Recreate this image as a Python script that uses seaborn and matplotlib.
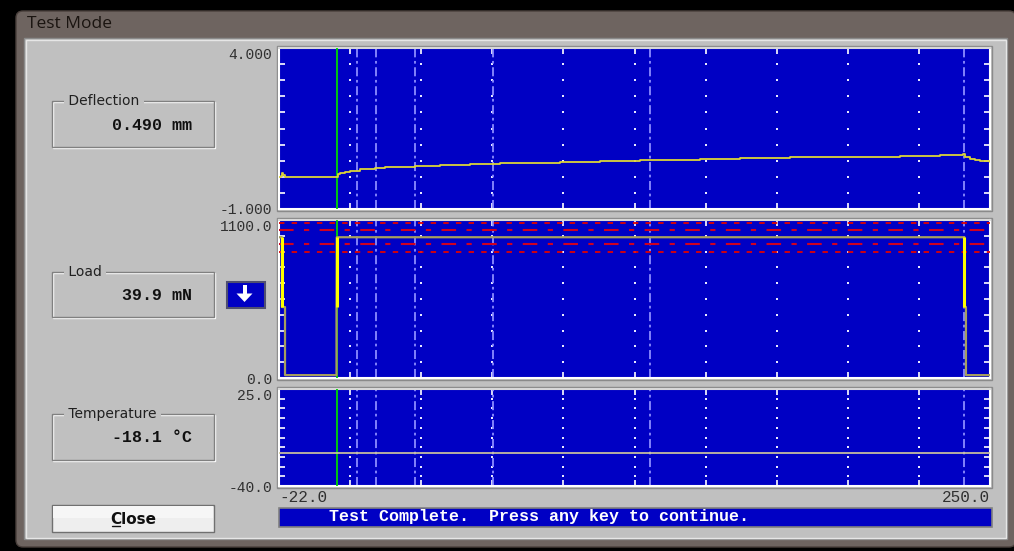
import matplotlib
matplotlib.use('Agg')
import matplotlib.pyplot as plt
import matplotlib.patches as mpatches
import seaborn as sns
import numpy as np

# ── Data ──────────────────────────────────────────────────────────────────────
t_range = [-22.0, 250.0]
event_times = [8, 15, 30, 60, 120, 240]          # BBR reading times (s)

defl_t = [-22.0, -21.3, -20.9, -20.4, -19.8, 0.0, 0.4, 1.3, 3.2, 5.2, 9.0, 14.7,
          18.6, 24.3, 30.0, 39.6, 51.1, 62.5, 74.0, 85.5, 100.8, 116.1, 139.1,
          154.4, 173.5, 192.6, 215.6, 230.9, 239.7, 240.4, 242.3, 244.2, 246.2, 250.0]
defl_v = [-0.02, 0.04, 0.12, 0.06, -0.02, -0.02, 0.08, 0.11, 0.16, 0.19, 0.23, 0.26,
          0.29, 0.31, 0.33, 0.36, 0.39, 0.42, 0.44, 0.46, 0.49, 0.52, 0.54,
          0.57, 0.60, 0.63, 0.66, 0.68, 0.70, 0.62, 0.56, 0.52, 0.49, 0.47]

load_t = [-22.0, -20.9, -20.9, -19.7, -19.7, 0.0, 0.0, 0.1, 240.2, 240.2, 240.8, 240.8, 250.0]
load_v = [980, 980, 494, 494, 20, 20, 494, 980, 980, 494, 494, 20, 20]
load_fast_t = [-20.9, 0.05, 240.2]
load_fast_lo = [494, 494, 494]
load_fast_hi = [980, 980, 980]
load_limits = [880, 930, 1030, 1080]

temp_t = [-22.0, 250.0]
temp_v = [-18.2, -18.2]

panels = ['Deflection', 'Load', 'Temperature']
readouts = ['0.490 mm', '39.9 mN', '-18.1 °C']
y_ranges = [(-1.0, 4.0), (0.0, 1100.0), (-40.0, 25.0)]
y_labels = [('-1.000', '4.000'), ('0.0', '1100.0'), ('-40.0', '25.0')]
x_labels = ['-22.0', '250.0']
status_msg = 'Test Complete.  Press any key to continue.'

# ── Style ─────────────────────────────────────────────────────────────────────
sns.set_theme(style='white')
plt.rcParams['font.family'] = ['DejaVu Sans']
PLOT_BG = '#0000c4'
PANEL = '#c0c0c0'
MONO = 'Liberation Mono'
W, H = 1014, 551

fig = plt.figure(figsize=(W / 100, H / 100), dpi=100, facecolor='black')

# ── Window chrome (pixel coordinates) ─────────────────────────────────────────
bg = fig.add_axes([0, 0, 1, 1])
bg.set_xlim(0, W)
bg.set_ylim(H, 0)
bg.axis('off')

bg.add_patch(mpatches.FancyBboxPatch((16, 11), 1000, 536,
                                     boxstyle='round,pad=0,rounding_size=7',
                                     fc='#6e6460', ec='#4a403c', lw=1))
stops_x = [16, 60, 130, 260, 500, 700, 800, 840, 900, 1014]
stops_c = [0.64, 0.70, 0.66, 0.54, 0.47, 0.44, 0.40, 0.52, 0.60, 0.64]
gx = np.linspace(16, 1014, 500)
gv = np.interp(gx, stops_x, stops_c)
grad = np.stack([gv * 1.0, gv * 0.94, gv * 0.91], axis=-1)[None, :, :]
grad = np.repeat(grad, 2, axis=0)
grad[1] *= 0.93
bg.imshow(grad, extent=(18, 1012, 38, 12), aspect='auto', interpolation='bilinear')
bg.set_xlim(0, W)
bg.set_ylim(H, 0)
bg.text(27, 24, 'Test Mode', fontsize=12.5, family='Open Sans', color='#1a1410', va='center')

bg.add_patch(mpatches.Rectangle((24, 38), 983, 501, fc=PANEL, ec='#8a8a8a', lw=1))
bg.add_patch(mpatches.Rectangle((25.5, 39.5), 980, 498, fc='none', ec='#e6e6e6', lw=1))


def group_box(y0, y1, label, value):
    bg.add_patch(mpatches.Rectangle((53, y0 + 1), 162, y1 - y0, fc='none', ec='white', lw=1))
    bg.add_patch(mpatches.Rectangle((52, y0), 162, y1 - y0, fc='none', ec='#808080', lw=1))
    bg.text(64, y0, ' ' + label + ' ', fontsize=10, color='#202020', va='center',
            bbox=dict(fc=PANEL, ec='none', pad=0))
    bg.text(192, (y0 + y1) / 2 + 1, value, fontsize=12, family=MONO, weight='bold',
            color='#101010', ha='right', va='center')


for (y0, y1), lab, val in zip([(101, 147), (272, 317), (414, 460)], panels, readouts):
    group_box(y0, y1, lab, val)

# down-arrow button
bg.add_patch(mpatches.Rectangle((227, 282), 38, 26, fc=PLOT_BG, ec='#505070', lw=1.5))
bg.add_patch(mpatches.Rectangle((242.5, 285), 4, 9, fc='white', ec='none'))
bg.add_patch(mpatches.Polygon([(236.5, 293.5), (252.5, 293.5), (244.5, 302)], fc='white', ec='none'))

# close button
bg.add_patch(mpatches.Rectangle((52, 505), 162, 27, fc='#eeeeee', ec='#707070', lw=1))
bg.add_patch(mpatches.Rectangle((53, 506), 160, 12, fc='#f6f6f6', ec='none'))
bg.text(133, 519, 'Close', fontsize=11, weight='bold', color='#101010', ha='center', va='center')
bg.plot([111.5, 120], [526, 526], color='#101010', lw=1)

# status bar
bg.add_patch(mpatches.Rectangle((279, 508), 713, 19, fc=PLOT_BG, ec='#808080', lw=1.2))
bg.text(329, 516.5, status_msg, fontsize=12, family=MONO, weight='bold', color='white', va='center')

# ── Plot panels ───────────────────────────────────────────────────────────────
boxes = [(48, 209), (220, 378), (389, 486)]
axes = []
for (top, bot), (ylo, yhi), (lab_lo, lab_hi) in zip(boxes, y_ranges, y_labels):
    bg.add_patch(mpatches.Rectangle((277, top - 2), 715, bot - top + 4, fc='none', ec='#8a8a8a', lw=1))
    ax = fig.add_axes([279 / W, 1 - bot / H, 711 / W, (bot - top) / H])
    ax.set_facecolor(PLOT_BG)
    ax.set_xlim(*t_range)
    ax.set_ylim(ylo, yhi)
    xd = np.linspace(t_range[0], t_range[1], 11)
    yd = np.linspace(ylo, yhi, 11)
    ax.set_yticks([ylo, yhi])
    ylabs = ax.set_yticklabels([lab_lo, lab_hi], family=MONO, fontsize=10.5, color='#303030')
    ylabs[1].set_va('top')
    ax.set_yticks(yd[1:-1], minor=True)
    ax.set_xticks(xd[1:-1], minor=True)
    ax.set_xticks(t_range)
    ax.set_xticklabels([])
    ax.tick_params(which='major', length=0, pad=5)
    ax.tick_params(which='minor', direction='in', color='white', length=4, width=1.2,
                   left=True, right=True, top=True, bottom=True)
    gx_, gy_ = np.meshgrid(xd[1:-1], yd[1:-1])
    ax.scatter(gx_.ravel(), gy_.ravel(), s=2.5, marker='s', color='#e8e8ff', linewidths=0, zorder=2)
    for et in event_times:
        ax.axvline(et, color='#8c8cff', lw=1.3, ls=(0, (5, 2, 1.5, 2)), zorder=2)
    ax.axvline(0, color='#00d800', lw=1.3, zorder=4)
    for side in ['left', 'bottom', 'right']:
        ax.spines[side].set_color('white')
        ax.spines[side].set_linewidth(1.5)
    ax.spines['top'].set_color('#d8d8d8')
    ax.spines['top'].set_linewidth(1.5)
    axes.append(ax)

ax1, ax2, ax3 = axes

# deflection
sns.lineplot(x=defl_t, y=defl_v, ax=ax1, color='#dcd438', lw=1.3, estimator=None,
             sort=False, drawstyle='steps-post', zorder=5)

# load
ax2.axhline(load_limits[0], color='#e00000', lw=1.3, ls=(0, (3, 4)), zorder=3)
ax2.axhline(load_limits[3], color='#e00000', lw=1.3, ls=(0, (3, 4)), zorder=3)
ax2.axhline(load_limits[1], color='#d00020', lw=1.5, ls=(0, (7, 5, 2.5, 5)), zorder=3)
ax2.axhline(load_limits[2], color='#d00020', lw=1.5, ls=(0, (7, 5, 2.5, 5)), zorder=3)
sns.lineplot(x=load_t, y=load_v, ax=ax2, color='#a69e5e', lw=1.6, estimator=None,
             sort=False, zorder=5)
ax2.vlines(load_fast_t, load_fast_lo, load_fast_hi, color='#ffff00', lw=2.2, zorder=6)

# temperature
sns.lineplot(x=temp_t, y=temp_v, ax=ax3, color='#d4cc9c', lw=1.2, estimator=None,
             sort=False, zorder=5)
ax3.set_xticklabels(x_labels, family=MONO, fontsize=11.5, color='#303030')
xl = ax3.get_xticklabels()
xl[0].set_ha('left')
xl[1].set_ha('right')
ax3.tick_params(axis='x', which='major', pad=3)

for ax in axes:
    ax.set_xlabel('')
    ax.set_ylabel('')
    legend = ax.get_legend()
    if legend:
        legend.remove()

fig.savefig('out.png', dpi=100, facecolor='black')
